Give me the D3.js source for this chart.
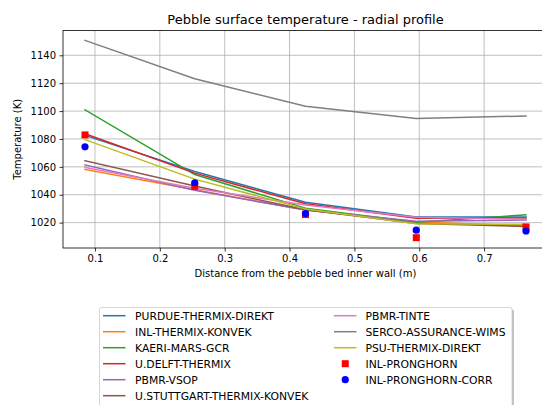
<!DOCTYPE html>
<html><head><meta charset="utf-8">
<script src="https://cdn.jsdelivr.net/npm/d3@7"></script>
<style>body{margin:0;background:#fff}svg{display:block;font-family:"DejaVu Sans",sans-serif}</style>
</head><body><svg id="c" width="542" height="405"></svg>
<script>
const xPositions = [0.0846, 0.2538, 0.4246, 0.5954, 0.7646];
const seriesNames = ["PURDUE-THERMIX-DIREKT","INL-THERMIX-KONVEK","KAERI-MARS-GCR","U.DELFT-THERMIX","PBMR-VSOP","U.STUTTGART-THERMIX-KONVEK","PBMR-TINTE","SERCO-ASSURANCE-WIMS","PSU-THERMIX-DIREKT"];
const purdue   = [1082.6, 1056.7, 1034.6, 1024.0, 1024.0];
const inlKonvek= [1058.2, 1043.5, 1029.0, 1020.5, 1017.8];
const kaeri    = [1100.9, 1054.5, 1030.4, 1020.2, 1025.6];
const delft    = [1083.8, 1055.5, 1033.5, 1023.2, 1023.4];
const vsop     = [1061.3, 1043.2, 1029.0, 1021.0, 1021.8];
const stuttgart= [1064.4, 1046.2, 1029.2, 1019.3, 1017.2];
const tinte    = [1059.6, 1044.7, 1032.7, 1023.8, 1022.4];
const serco    = [1150.7, 1123.2, 1103.5, 1094.6, 1096.5];
const psu      = [1079.5, 1051.2, 1029.8, 1019.2, 1018.8];
const pronghorn     = [1082.9, 1046.0, 1025.8, 1009.2, 1016.9];
const pronghornCorr = [1074.4, 1048.6, 1026.5, 1014.6, 1014.0];
const xTicks = [0.1,0.2,0.3,0.4,0.5,0.6,0.7];
const yTicks = [1020,1040,1060,1080,1100,1120,1140];

const lineSeries = [purdue, inlKonvek, kaeri, delft, vsop, stuttgart, tinte, serco, psu];
const colors = ["#1f77b4","#ff7f0e","#2ca02c","#d62728","#9467bd","#8c564b","#e377c2","#7f7f7f","#bcbd22"];

const svg = d3.select("#c");
const L=63, R=548, T=30.5, B=248;
const x = d3.scaleLinear().domain([0.0507, 0.7985]).range([L, R]);
const y = d3.scaleLinear().domain([1001.8, 1157.8]).range([B, T]);

// grid
const g = svg.append("g");
g.selectAll(".gx").data(xTicks).enter().append("line")
  .attr("x1",d=>x(d)).attr("x2",d=>x(d)).attr("y1",T).attr("y2",B)
  .attr("stroke","#b0b0b0").attr("stroke-width",0.8);
g.selectAll(".gy").data(yTicks).enter().append("line")
  .attr("x1",L).attr("x2",R).attr("y1",d=>y(d)).attr("y2",d=>y(d))
  .attr("stroke","#b0b0b0").attr("stroke-width",0.8);

// lines
const line = d3.line().x((d,i)=>x(xPositions[i])).y(d=>y(d));
lineSeries.forEach((s,k)=>{
  svg.append("path").datum(s).attr("d",line).attr("fill","none")
    .attr("stroke",colors[k]).attr("stroke-width",1.5).attr("stroke-linejoin","round").attr("stroke-linecap","square");
});
// markers
svg.selectAll(".sq").data(pronghorn).enter().append("rect")
  .attr("x",(d,i)=>x(xPositions[i])-3.5).attr("y",d=>y(d)-3.5).attr("width",7).attr("height",7).attr("fill","#ff0000");
svg.selectAll(".ci").data(pronghornCorr).enter().append("circle")
  .attr("cx",(d,i)=>x(xPositions[i])).attr("cy",d=>y(d)).attr("r",3.6).attr("fill","#0000ff");

// axes
const xAxis = d3.axisBottom(x).tickValues(xTicks).tickFormat(d3.format(".1f")).tickSize(3.5).tickPadding(3.5);
const yAxis = d3.axisLeft(y).tickValues(yTicks).tickFormat(d3.format("d")).tickSize(3.5).tickPadding(3.5);
const ax = svg.append("g").attr("transform",`translate(0,${B})`).call(xAxis);
const ay = svg.append("g").attr("transform",`translate(${L},0)`).call(yAxis);
[ax,ay].forEach(a=>{
  a.select(".domain").remove();
  a.selectAll("line").attr("stroke","#000").attr("stroke-width",0.8);
  a.selectAll("text").attr("font-size",10).attr("fill","#000").attr("font-family","DejaVu Sans");
});
svg.append("rect").attr("x",L).attr("y",T).attr("width",R-L).attr("height",B-T)
  .attr("fill","none").attr("stroke","#000").attr("stroke-width",0.8);

// titles
svg.append("text").attr("x",(L+R)/2).attr("y",24).attr("text-anchor","middle").attr("font-size",13).text("Pebble surface temperature - radial profile");
svg.append("text").attr("x",(L+R)/2).attr("y",277).attr("text-anchor","middle").attr("font-size",10).text("Distance from the pebble bed inner wall (m)");
svg.append("text").attr("transform",`translate(21,${(T+B)/2}) rotate(-90)`).attr("text-anchor","middle").attr("font-size",10).text("Temperature (K)");

// legend
const lg = svg.append("g");
lg.append("rect").attr("x",101).attr("y",309.5).attr("width",413).attr("height",110).attr("rx",2).attr("fill","#999").attr("opacity",0.6);
lg.append("rect").attr("x",99.5).attr("y",307.5).attr("width",412.5).attr("height",110).attr("rx",2).attr("fill","#fff").attr("stroke","#ccc").attr("stroke-width",0.8);
const entries = seriesNames.map((n,k)=>({name:n,type:"line",color:colors[k]}))
  .concat([{name:"INL-PRONGHORN",type:"sq",color:"#ff0000"},{name:"INL-PRONGHORN-CORR",type:"ci",color:"#0000ff"}]);
entries.forEach((e,i)=>{
  const col = i<6?0:1, row = i<6?i:i-6;
  const lx = col===0?103:334, tx = col===0?135:365.5;
  const cy = 315.7 + row*16;
  if(e.type==="line") lg.append("line").attr("x1",lx).attr("x2",lx+22.5).attr("y1",cy).attr("y2",cy).attr("stroke",e.color).attr("stroke-width",1.5);
  else if(e.type==="sq") lg.append("rect").attr("x",lx+11.25-3.5).attr("y",cy-3.5).attr("width",7).attr("height",7).attr("fill",e.color);
  else lg.append("circle").attr("cx",lx+11.25).attr("cy",cy).attr("r",3.6).attr("fill",e.color);
  lg.append("text").attr("x",tx).attr("y",cy+3.9).attr("font-size",10.8).text(e.name);
});
</script></body></html>
